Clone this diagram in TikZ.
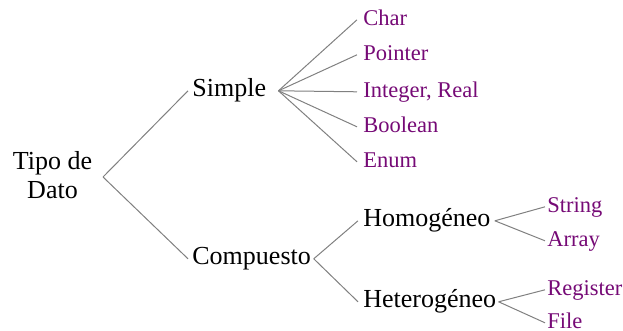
\documentclass[tikz,border=0pt]{standalone}
\usepackage{fontspec}
\setmainfont{LiberationSerif}[Extension=.ttf, UprightFont=*-Regular, BoldFont=*-Bold]
\usepackage{tikz}
\definecolor{morado}{RGB}{118,10,118}
\definecolor{gris}{RGB}{128,128,128}

\begin{document}
\begin{tikzpicture}[x=0.5pt, y=-0.5pt,
		negro/.style={inner sep=0pt, text height=0.7em, text depth=0.08em, font=\rmfamily\fontsize{13}{14.5}\selectfont},
		hoja/.style={inner sep=0pt, text height=0.7em, text depth=0.08em, text=morado, font=\rmfamily\fontsize{11.25}{13}\selectfont},
		rama/.style={line width=0.5pt, color=gris}]
		%%%%% START %%%%%
		\useasboundingbox (0, 0) rectangle (623, 331);
		
		\node[inner sep=0pt, align=center, font=\rmfamily\fontsize{13}{14.5}\selectfont] (tipo) at (52.5, 175.5) {Tipo de\\Dato};
		
		\node[negro, anchor=base west] (simple) at (192, 97) {Simple};
		\node[negro, anchor=base west] (compuesto) at (192, 265) {Compuesto};
		
		\node[hoja, anchor=base west] (char) at (363, 26) {Char};
		\node[hoja, anchor=base west] (pointer) at (363, 61) {Pointer};
		\node[hoja, anchor=base west] (integer) at (363, 98) {Integer, Real};
		\node[hoja, anchor=base west] (boolean) at (363, 133) {Boolean};
		\node[hoja, anchor=base west] (enum) at (363, 168) {Enum};
		
		\node[negro, anchor=base west] (homog) at (363, 227) {Homogéneo};
		\node[negro, anchor=base west] (heterog) at (363, 308) {Heterogéneo};
		
		\node[hoja, anchor=base west] (string) at (547, 213) {String};
		\node[hoja, anchor=base west] (array) at (547, 247) {Array};
		\node[hoja, anchor=base west] (register) at (547, 296) {Register};
		\node[hoja, anchor=base west] (file) at (547, 329) {File};
		
		\draw[rama] ([xshift=5.25pt, yshift=-0.75pt]tipo.east) -- ([xshift=-2pt]simple.west);
		\draw[rama] ([xshift=5.25pt, yshift=-0.75pt]tipo.east) -- ([xshift=-2pt]compuesto.west);
		
		\draw[rama] ([xshift=6pt]simple.east) -- ([xshift=-3pt]char.west);
		\draw[rama] ([xshift=6pt]simple.east) -- ([xshift=-3pt]pointer.west);
		\draw[rama] ([xshift=6pt]simple.east) -- ([xshift=-3pt]integer.west);
		\draw[rama] ([xshift=6pt]simple.east) -- ([xshift=-3pt]boolean.west);
		\draw[rama] ([xshift=6pt]simple.east) -- ([xshift=-3pt]enum.west);
		
		\draw[rama] ([xshift=1.25pt]compuesto.east) -- ([xshift=-2.5pt]homog.west);
		\draw[rama] ([xshift=1.25pt]compuesto.east) -- ([xshift=-2.5pt]heterog.west);
		
		\draw[rama] ([xshift=2pt]homog.east) -- ([xshift=-1pt]string.west);
		\draw[rama] ([xshift=2pt]homog.east) -- ([xshift=-1pt]array.west);
		\draw[rama] ([xshift=1pt]heterog.east) -- ([xshift=-1pt]register.west);
		\draw[rama] ([xshift=1pt]heterog.east) -- ([xshift=-1pt]file.west);
		%%%%% END %%%%%
	\end{tikzpicture}
\end{document}
